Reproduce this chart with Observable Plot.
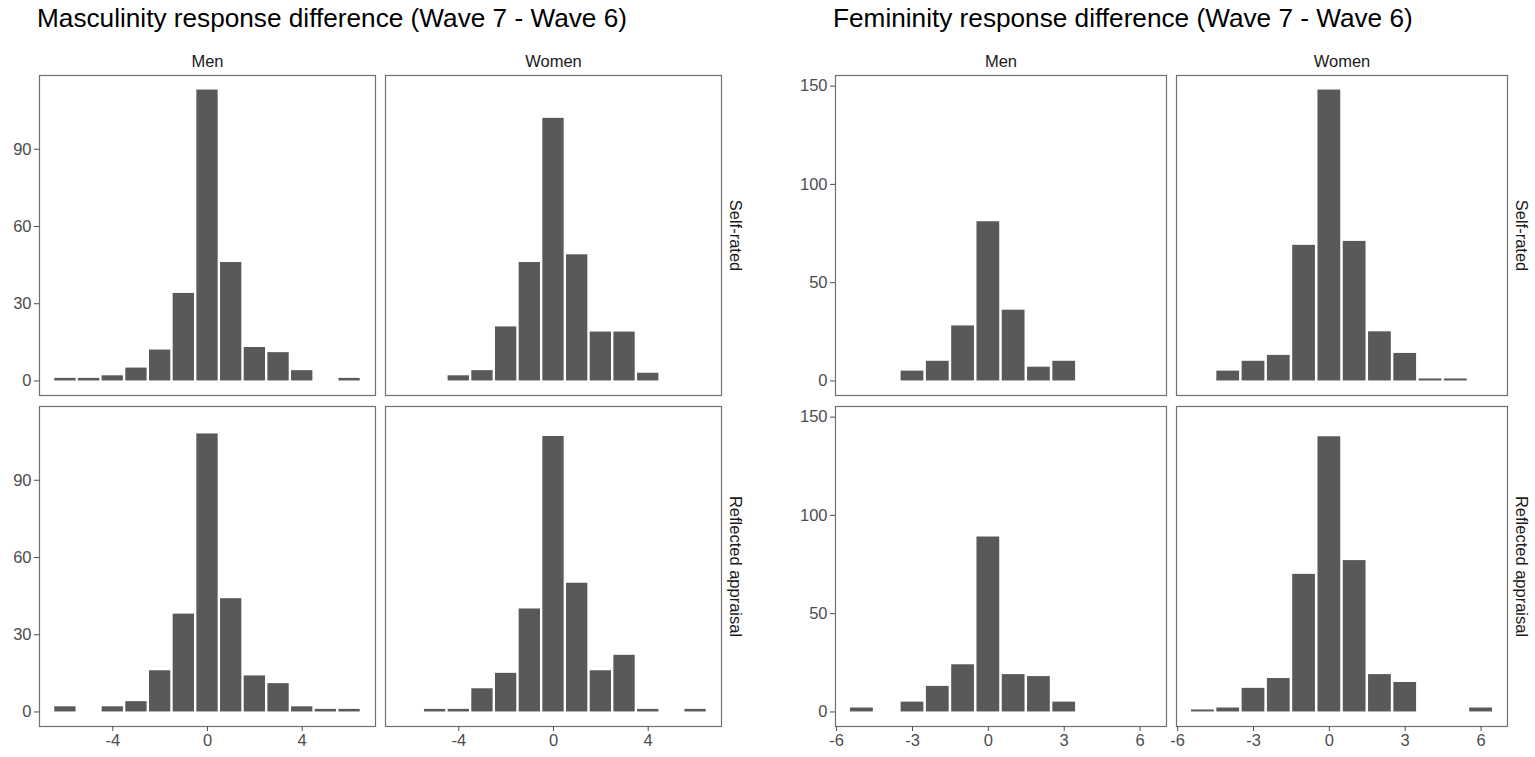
<!DOCTYPE html>
<html>
<head>
<meta charset="utf-8">
<script src="https://cdn.jsdelivr.net/npm/d3@7"></script>
<script src="https://cdn.jsdelivr.net/npm/@observablehq/plot@0.6"></script>
<style>
  html, body { margin: 0; padding: 0; background: #fff; }
  #wrap { position: relative; width: 1535px; height: 757px; overflow: hidden; font-family: "Liberation Sans", Arial, Helvetica, sans-serif; }
  .title { position: absolute; top: 5px; font-size: 26.2px; color: #000; white-space: nowrap; line-height: 1; }
  .chart { position: absolute; top: 36px; }
</style>
</head>
<body>
<div id="wrap">
  <div class="title" id="t1" style="left:37px">Masculinity response difference (Wave 7 - Wave 6)</div>
  <div class="title" id="t2" style="left:833px">Femininity response difference (Wave 7 - Wave 6)</div>
  <div class="chart" id="c1" style="left:0px"></div>
  <div class="chart" id="c2" style="left:767px"></div>
</div>
<script>
// Response difference values (x categories)
const diffs = [-6, -5, -4, -3, -2, -1, 0, 1, 2, 3, 4, 5, 6];
const sexes = ["Men", "Women"];
const raters = ["Self-rated", "Reflected appraisal"];

// Masculinity counts per difference
const mascMenSelf    = [1, 1, 2, 5, 12, 34, 113, 46, 13, 11, 4, 0, 1];
const mascWomenSelf  = [0, 0, 2, 4, 21, 46, 102, 49, 19, 19, 3, 0, 0];
const mascMenRefl    = [2, 0, 2, 4, 16, 38, 108, 44, 14, 11, 2, 1, 1];
const mascWomenRefl  = [0, 1, 1, 9, 15, 40, 107, 50, 16, 22, 1, 0, 1];

// Femininity counts per difference
const femMenSelf     = [0, 0, 0, 5, 10, 28, 81, 36, 7, 10, 0, 0, 0];
const femWomenSelf   = [0, 0, 5, 10, 13, 69, 148, 71, 25, 14, 1, 1, 0];
const femMenRefl     = [0, 2, 0, 5, 13, 24, 89, 19, 18, 5, 0, 0, 0];
const femWomenRefl   = [0, 1, 2, 12, 17, 70, 140, 77, 19, 15, 0, 0, 2];

// Tick labels
const mascXTicks = [-4, 0, 4];
const mascYTicks = [0, 30, 60, 90];
const femXTicks = [-6, -3, 0, 3, 6];
const femYTicks = [0, 50, 100, 150];

function rows(values, sex, rater) {
  return diffs.map((d, i) => ({diff: d, n: values[i], sex, rater})).filter(r => r.n > 0);
}

function makeChart(panels, xTicks, yTicks, opts) {
  const data = panels.flat();
  const half = 0.45;
  const xmin = d3.min(data, d => d.diff) - half;
  const xmax = d3.max(data, d => d.diff) + half;
  const xpad = (xmax - xmin) * 0.05;
  const ymax = d3.max(data, d => d.n);
  const ypad = ymax * 0.05;
  const fmt = d => String(d);
  return Plot.plot({
    width: opts.width,
    height: 721,
    marginLeft: opts.marginLeft,
    marginRight: opts.marginRight,
    marginTop: 39,
    marginBottom: 30,
    style: {fontFamily: '"Liberation Sans", Arial, Helvetica, sans-serif', fontSize: "16.5px", background: "white", overflow: "visible"},
    x: {domain: [xmin - xpad, xmax + xpad]},
    y: {domain: [-ypad, ymax + ypad]},
    fx: {domain: sexes, paddingInner: 0.029, paddingOuter: 0},
    fy: {domain: raters, paddingInner: 0.032, paddingOuter: 0, axis: null},
    marks: [
      Plot.rectY(data, {
        x1: d => d.diff - half, x2: d => d.diff + half, y1: 0, y2: "n",
        fx: "sex", fy: "rater", fill: "#595959", inset: 0
      }),
      Plot.frame({stroke: "#707070", strokeWidth: 1.2}),
      Plot.axisX({ticks: xTicks, tickFormat: fmt, tickSize: 5, tickPadding: 3, label: null, color: "#4d4d4d", strokeWidth: 1}),
      Plot.axisY({ticks: yTicks, tickFormat: fmt, tickSize: 5, tickPadding: 3, label: null, color: "#4d4d4d", strokeWidth: 1}),
      Plot.axisFx({anchor: "top", label: null, tickSize: 0, tickPadding: 9, color: "#1a1a1a"}),
      Plot.text(raters, {
        fx: () => sexes[sexes.length - 1], fy: d => d, text: d => d,
        frameAnchor: "right", rotate: 90, dx: 14,
        textAnchor: "middle", lineAnchor: "middle", fill: "#1a1a1a"
      })
    ]
  });
}

const masc = makeChart([
  rows(mascMenSelf, "Men", "Self-rated"),
  rows(mascWomenSelf, "Women", "Self-rated"),
  rows(mascMenRefl, "Men", "Reflected appraisal"),
  rows(mascWomenRefl, "Women", "Reflected appraisal")
], mascXTicks, mascYTicks, {width: 767, marginLeft: 38, marginRight: 46});

const fem = makeChart([
  rows(femMenSelf, "Men", "Self-rated"),
  rows(femWomenSelf, "Women", "Self-rated"),
  rows(femMenRefl, "Men", "Reflected appraisal"),
  rows(femWomenRefl, "Women", "Reflected appraisal")
], femXTicks, femYTicks, {width: 768, marginLeft: 67, marginRight: 27});

document.getElementById("c1").appendChild(masc);
document.getElementById("c2").appendChild(fem);
</script>
</body>
</html>
